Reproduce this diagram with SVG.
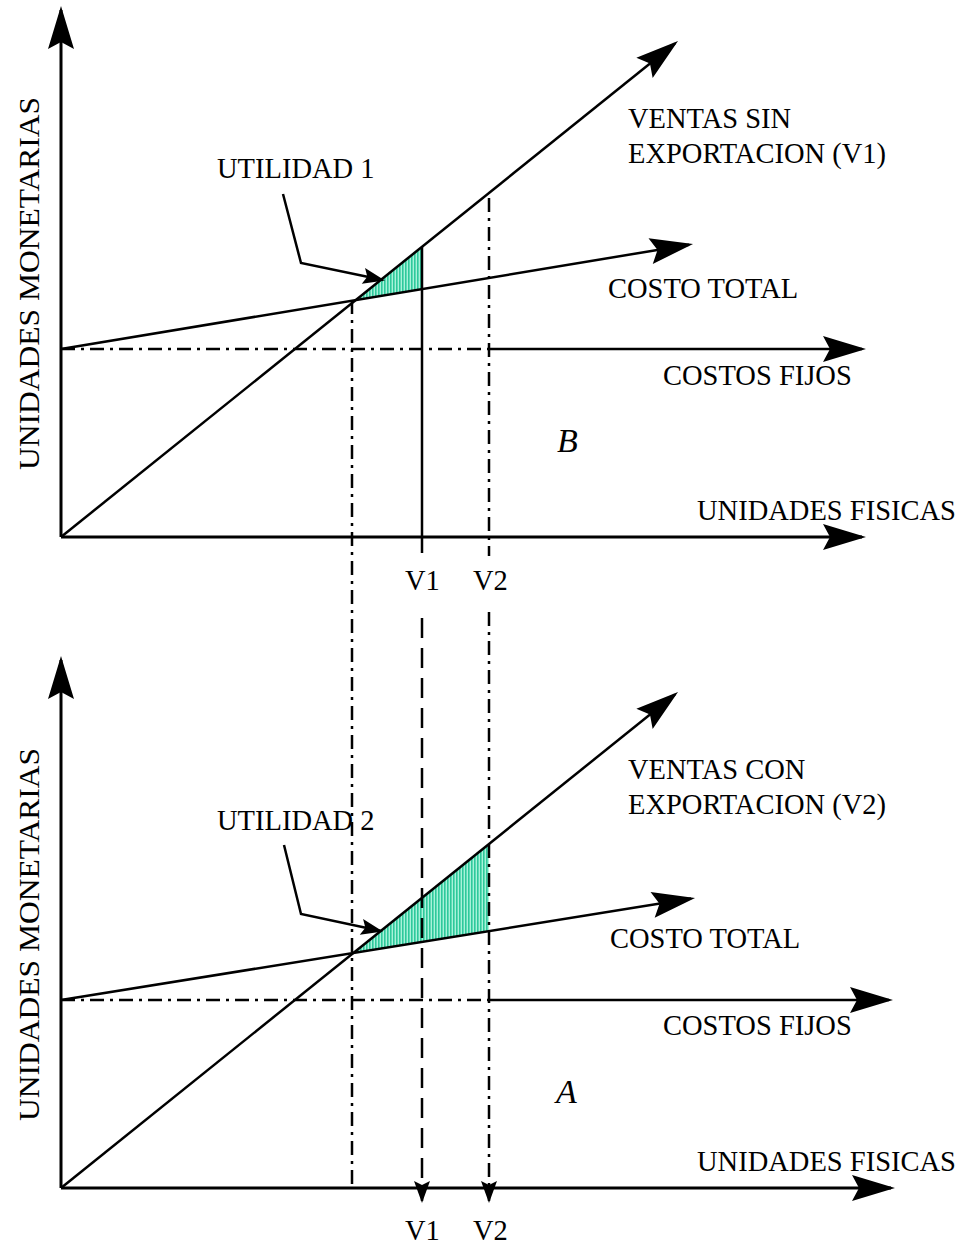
<svg xmlns="http://www.w3.org/2000/svg" width="959" height="1246" viewBox="0 0 959 1246">
<style>
text{font-family:"Liberation Serif","Times New Roman",serif;font-size:28.5px;fill:#000}
.it{font-style:italic;font-size:34px}
.ax{stroke:#000;stroke-width:3;fill:none}
.ln{stroke:#000;stroke-width:2.5;fill:none}
.dd{stroke:#000;stroke-width:2.5;fill:none;stroke-dasharray:14 6 3 6}
.ds{stroke:#000;stroke-width:2.5;fill:none;stroke-dasharray:20 10}
.hatch{fill:url(#stripes);stroke:none}
</style>
<defs>
<pattern id="stripes" patternUnits="userSpaceOnUse" width="3" height="10">
<rect width="3" height="10" fill="#a8f2da"/>
<rect width="1.6" height="10" fill="#2ec99b"/>
</pattern>
<marker id="big" markerUnits="userSpaceOnUse" markerWidth="50" markerHeight="30" viewBox="-46 -15 50 30" refX="-4" refY="0" orient="auto" overflow="visible">
<path d="M0,0 L-43,-13 L-36,0 L-43,13 Z" fill="#000"/>
</marker>
<marker id="small" markerUnits="userSpaceOnUse" markerWidth="26" markerHeight="20" viewBox="-24 -10 26 20" refX="-2" refY="0" orient="auto" overflow="visible">
<path d="M0,0 L-22,-8 L-18,0 L-22,8 Z" fill="#000"/>
</marker>
</defs>

<g id="hatched-areas">
<polygon class="hatch" points="356,300 422,247 422,289"/>
<polygon class="hatch" points="353,953 489,844 489,931"/>
</g>

<g id="connectors">
<line class="dd" x1="352" y1="300" x2="352" y2="1188"/>
<line class="dd" x1="489" y1="198" x2="489" y2="556"/>
<line class="dd" x1="489" y1="612" x2="489" y2="1201" marker-end="url(#small)"/>
<line class="ln" x1="422" y1="247" x2="422" y2="553"/>
<line class="ds" x1="422" y1="618" x2="422" y2="1201" marker-end="url(#small)"/>

<line class="ax" x1="61" y1="537" x2="61" y2="10" marker-end="url(#big)"/>
<line class="ax" x1="61" y1="537" x2="862" y2="537" marker-end="url(#big)"/>
<line class="ln" x1="61" y1="537" x2="674.9" y2="43.5" marker-end="url(#big)"/>
<line class="ln" x1="61" y1="349" x2="689.1" y2="244.7" marker-end="url(#big)"/>
<line class="dd" x1="61" y1="349" x2="489" y2="349"/>
<line class="ln" x1="489" y1="349" x2="862" y2="349" marker-end="url(#big)"/>
<polyline class="ln" points="283,194 301,263 383,280" marker-end="url(#small)"/>

<line class="ax" x1="61" y1="1188" x2="61" y2="660" marker-end="url(#big)"/>
<line class="ax" x1="61" y1="1188" x2="891" y2="1188" marker-end="url(#big)"/>
<line class="ln" x1="61" y1="1188" x2="674.9" y2="694.5" marker-end="url(#big)"/>
<line class="ln" x1="61" y1="1000" x2="691.1" y2="898.6" marker-end="url(#big)"/>
<line class="dd" x1="61" y1="1000" x2="489" y2="1000"/>
<line class="ln" x1="489" y1="1000" x2="889" y2="1000" marker-end="url(#big)"/>
<polyline class="ln" points="284,845 301,914 381,931" marker-end="url(#small)"/>
</g>

<g id="top-panel-labels">
<text x="32" y="470" transform="rotate(-90 32 470)" dy="7" textLength="373" lengthAdjust="spacingAndGlyphs">UNIDADES MONETARIAS</text>
<text x="628" y="128">VENTAS SIN</text>
<text x="628" y="163">EXPORTACION (V1)</text>
<text x="217" y="178">UTILIDAD 1</text>
<text x="608" y="298">COSTO TOTAL</text>
<text x="663" y="385">COSTOS FIJOS</text>
<text class="it" x="557" y="452">B</text>
<text x="697" y="520">UNIDADES FISICAS</text>
<text x="405" y="590">V1</text>
<text x="473" y="590">V2</text>
</g>

<g id="bottom-panel-labels">
<text x="32" y="1121" transform="rotate(-90 32 1121)" dy="7" textLength="373" lengthAdjust="spacingAndGlyphs">UNIDADES MONETARIAS</text>
<text x="628" y="779">VENTAS CON</text>
<text x="628" y="814">EXPORTACION (V2)</text>
<text x="217" y="830">UTILIDAD 2</text>
<text x="610" y="948">COSTO TOTAL</text>
<text x="663" y="1035">COSTOS FIJOS</text>
<text class="it" x="556" y="1103">A</text>
<text x="697" y="1171">UNIDADES FISICAS</text>
<text x="405" y="1240">V1</text>
<text x="473" y="1240">V2</text>
</g>
</svg>
